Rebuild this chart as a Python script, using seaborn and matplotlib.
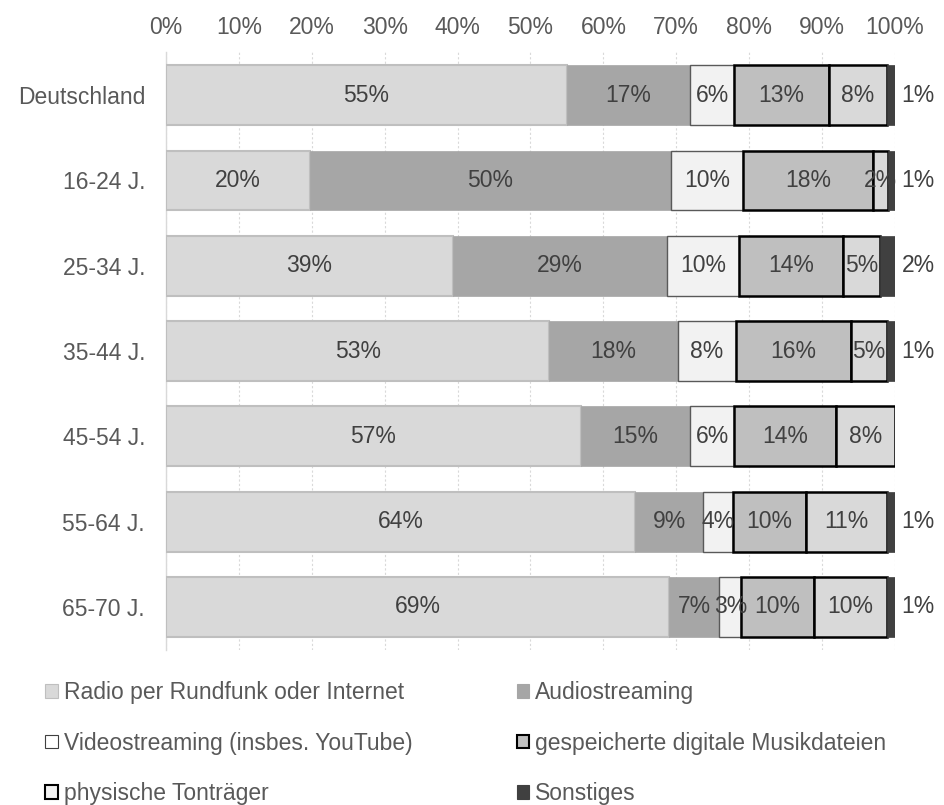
import numpy as np
import pandas as pd
import seaborn as sns
import matplotlib.pyplot as plt
from matplotlib.patches import Patch
from matplotlib.ticker import PercentFormatter

# Altersgruppen
groups = ["Deutschland", "16-24 J.", "25-34 J.", "35-44 J.", "45-54 J.", "55-64 J.", "65-70 J."]

# Anteile in Prozent (aus dem Bild geschätzt)
radio = [55.0, 19.7, 39.4, 52.6, 56.9, 64.4, 69.0]
audio = [16.9, 49.6, 29.3, 17.6, 15.0, 9.3, 6.9]
video = [6.0, 9.9, 9.9, 8.0, 6.0, 4.1, 3.0]
dateien = [13.0, 17.8, 14.3, 15.8, 14.0, 10.0, 10.0]
physisch = [8.0, 2.0, 5.0, 4.9, 8.1, 11.1, 10.0]
sonstiges = [1.1, 1.0, 2.1, 1.1, 0.0, 1.1, 1.1]

series = [
    ("Radio per Rundfunk oder Internet", radio, "#d9d9d9", "#bfbfbf", 1.5),
    ("Audiostreaming", audio, "#a6a6a6", "#a6a6a6", 0.5),
    ("Videostreaming (insbes. YouTube)", video, "#f2f2f2", "#595959", 1.0),
    ("gespeicherte digitale Musikdateien", dateien, "#bfbfbf", "#000000", 1.8),
    ("physische Tonträger", physisch, "#d9d9d9", "#000000", 1.8),
    ("Sonstiges", sonstiges, "#404040", "#404040", 0.5),
]

FS = 16.5

df = pd.DataFrame({"group": groups})
for name, vals, *_ in series:
    df[name] = vals

sns.set_style("white")
plt.rcParams["font.family"] = ["Liberation Sans", "DejaVu Sans"]

fig = plt.figure(figsize=(9.44, 8.05), dpi=100)
ax = fig.add_axes([0.1758, 0.193, 0.7723, 0.7419])

left = np.zeros(len(groups))
for name, vals, fc, ec, lw in series:
    sns.barplot(data=df, x=name, y="group", orient="h", left=left.copy(),
                color=fc, edgecolor=ec, linewidth=lw, width=0.7,
                saturation=1, ax=ax, zorder=3)
    # Beschriftungen
    for i, v in enumerate(vals):
        if v <= 0:
            continue
        if name == "Sonstiges":
            ax.text(103.2, i, f"{v:.0f}%", ha="center", va="center",
                    fontsize=FS, color="#404040", clip_on=False)
        else:
            ax.text(left[i] + v / 2, i, f"{v:.0f}%", ha="center", va="center",
                    fontsize=FS, color="#404040", zorder=5)
    left += np.array(vals)

ax.set_xlim(0, 100)
ax.set_ylim(len(groups) - 0.5, -0.5)
ax.xaxis.tick_top()
ax.xaxis.set_label_position("top")
ax.set_xticks(np.arange(0, 101, 10))
ax.xaxis.set_major_formatter(PercentFormatter(decimals=0))
ax.tick_params(axis="x", length=0, pad=10, labelsize=FS, labelcolor="#595959")
ax.tick_params(axis="y", length=0, pad=15, labelsize=FS, labelcolor="#595959")
ax.set_xlabel("")
ax.set_ylabel("")
ax.grid(axis="x", color="#d9d9d9", linestyle=(0, (2, 2)), linewidth=0.8, zorder=0)
ax.set_axisbelow(True)
for s in ["top", "right", "bottom"]:
    ax.spines[s].set_visible(False)
ax.spines["left"].set_color("#d9d9d9")
ax.spines["left"].set_linewidth(1)

handles = [Patch(facecolor=fc, edgecolor=(ec if name not in ("Audiostreaming", "Sonstiges") else fc),
                 linewidth=(1.5 if ec == "#000000" else 0.8), label=name)
           for name, vals, fc, ec, lw in series]
handles[2] = Patch(facecolor="#ffffff", edgecolor="#404040", linewidth=0.8, label=series[2][0])
handles[4] = Patch(facecolor="#f2f2f2", edgecolor="#000000", linewidth=1.5, label=series[4][0])
order = [0, 2, 4, 1, 3, 5]
fig.legend([handles[k] for k in order], [series[k][0] for k in order],
           loc="upper left", bbox_to_anchor=(0.0477, 0.154), ncol=2,
           frameon=False, fontsize=FS, labelcolor="#595959",
           handlelength=0.55, handleheight=0.55, handletextpad=0.26,
           labelspacing=1.2, columnspacing=4.56, borderpad=0, borderaxespad=0)

fig.savefig("out.png", dpi=100)
